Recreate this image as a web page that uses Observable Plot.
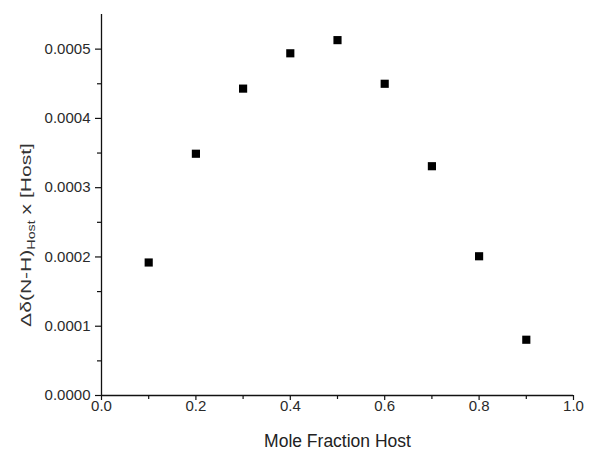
<!DOCTYPE html>
<html><head><meta charset="utf-8">
<script src="https://cdn.jsdelivr.net/npm/d3@7"></script>
<script src="https://cdn.jsdelivr.net/npm/@observablehq/plot@0.6"></script>
<style>
body{margin:0;background:#fff}
svg{font-family:Arial,"Liberation Sans",sans-serif}
</style>
</head><body><div id="chart"></div>
<script>
const moleFraction = [0.1, 0.2, 0.3, 0.4, 0.5, 0.6, 0.7, 0.8, 0.9];
const deltaHost = [0.000192, 0.000349, 0.000443, 0.000494, 0.000513, 0.000450, 0.000331, 0.000201, 0.0000805];
const xMajorTicks = [0, 0.2, 0.4, 0.6, 0.8, 1.0];
const xMinorTicks = [0.1, 0.3, 0.5, 0.7, 0.9];
const yMajorTicks = [0, 0.0001, 0.0002, 0.0003, 0.0004, 0.0005];
const yMinorTicks = [0.00005, 0.00015, 0.00025, 0.00035, 0.00045];
const xLabel = "Mole Fraction Host";
const yLabelMain = "\u0394\u03b4(N-H)";
const yLabelSub = "Host";
const yLabelTail = " x [Host]";

const data = moleFraction.map((x, i) => ({x, y: deltaHost[i]}));

const chart = Plot.plot({
  width: 589,
  height: 454,
  marginLeft: 101,
  marginRight: 16,
  marginTop: 14,
  marginBottom: 59,
  style: {fontFamily: 'Arial, "Liberation Sans", sans-serif', fontSize: "15px", color: "#2a2a2a", background: "#fff"},
  x: {domain: [0, 1]},
  y: {domain: [0, 0.00055]},
  marks: [
    Plot.axisX(xMajorTicks, {tickSize: 5, tickPadding: 0, tickFormat: d => d.toFixed(1), label: null, fontSize: 15, stroke: "#111", strokeWidth: 1.2}),
    Plot.axisX(xMinorTicks, {tickSize: 4, tickFormat: () => "", label: null, stroke: "#111", strokeWidth: 1.2}),
    Plot.axisY(yMajorTicks, {tickSize: 6, tickPadding: 5, tickFormat: d => d.toFixed(4), label: null, fontSize: 15, stroke: "#111", strokeWidth: 1.2}),
    Plot.axisY(yMinorTicks, {tickSize: 4, tickFormat: () => "", label: null, stroke: "#111", strokeWidth: 1.2}),
    Plot.ruleX([0], {stroke: "#111", strokeWidth: 1.3}),
    Plot.ruleY([0], {stroke: "#111", strokeWidth: 1.3}),
    Plot.dot(data, {x: "x", y: "y", symbol: "square", r: 4.6, fill: "#000", stroke: "none"}),
    Plot.text([xLabel], {text: d => d, frameAnchor: "bottom", dy: 51, fontSize: 17.5, fill: "#222"})
  ]
});
document.getElementById("chart").appendChild(chart);

// y-axis label with subscript
const svg = d3.select(chart.tagName.toLowerCase() === "svg" ? chart : chart.querySelector("svg"));
const t = svg.append("text")
  .attr("text-anchor", "middle")
  .attr("font-size", 15.5)
  .attr("fill", "#333")
  .attr("transform", "translate(31,235) rotate(-90)");
t.append("tspan").text(yLabelMain);
t.append("tspan").attr("font-size", 10.5).attr("dy", 4).text(yLabelSub);
t.append("tspan").attr("dy", -4).text(yLabelTail);
const len = t.node().getComputedTextLength();
t.attr("transform", `translate(31,235) rotate(-90) scale(${184 / len},1)`);
</script>
</body></html>
